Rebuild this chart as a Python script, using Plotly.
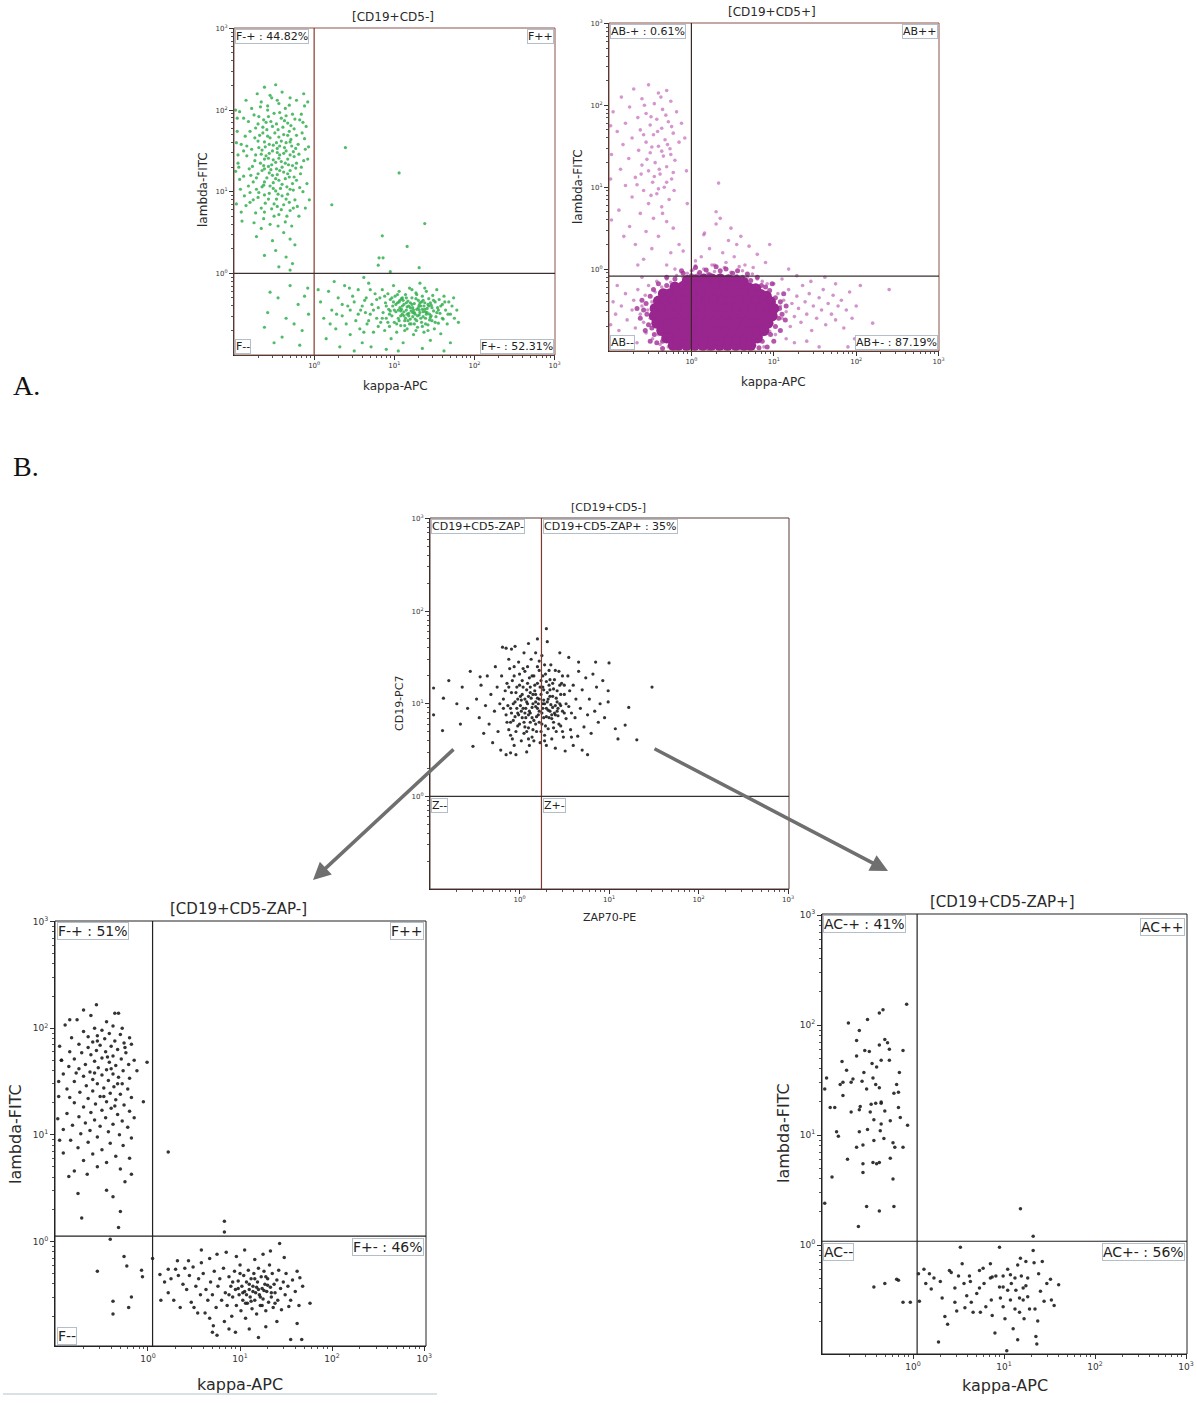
import math
import plotly.graph_objects as go

W, H = 1197, 1403

# ---------------- DATA (log10 decade values) ----------------
tick_vals = [0, 1, 2, 3]
tick_text = ["10<sup>0</sup>", "10<sup>1</sup>", "10<sup>2</sup>", "10<sup>3</sup>"]

# Panel A1 [CD19+CD5-]  (green)
a1_upper_left = [
 (-0.62,2.28),(-0.48,2.31),(-0.71,2.20),(-0.55,2.18),(-0.40,2.22),(-0.30,2.15),(-0.85,2.12),(-0.66,2.10),(-0.44,2.08),(-0.22,2.12),
 (-0.12,2.05),(-0.78,2.02),(-0.58,2.00),(-0.36,2.02),(-0.50,1.96),(-0.27,1.95),(-0.93,1.98),(-0.69,1.92),(-0.41,1.90),(-0.18,1.88),
 (-0.82,1.86),(-0.60,1.85),(-0.33,1.84),(-0.52,1.80),(-0.73,1.78),(-0.45,1.76),(-0.25,1.77),(-0.96,1.74),(-0.64,1.72),(-0.38,1.70),
 (-0.15,1.72),(-0.86,1.68),(-0.55,1.66),(-0.29,1.64),(-0.70,1.62),(-0.47,1.60),(-0.20,1.58),(-0.91,1.58),(-0.61,1.55),(-0.37,1.54),
 (-0.78,1.52),(-0.52,1.50),(-0.26,1.49),(-0.11,1.52),(-0.66,1.46),(-0.43,1.45),(-0.84,1.44),(-0.57,1.41),(-0.33,1.40),(-0.74,1.38),
 (-0.48,1.36),(-0.22,1.35),(-0.95,1.35),(-0.63,1.32),(-0.40,1.30),(-0.81,1.28),(-0.54,1.27),(-0.30,1.26),(-0.70,1.22),(-0.46,1.21),
 (-0.17,1.22),(-0.88,1.19),(-0.59,1.17),(-0.36,1.16),(-0.76,1.12),(-0.51,1.11),(-0.27,1.10),(-0.65,1.06),(-0.42,1.04),(-0.92,1.03),
 (-0.80,0.99),(-0.56,0.98),(-0.33,0.97),(-0.14,1.00),(-0.70,0.93),(-0.47,0.91),(-0.24,0.90),(-0.61,0.86),(-0.38,0.84),(-0.85,0.83),
 (-0.53,0.79),(-0.30,0.77),(-0.73,0.74),(-0.44,0.72),(-0.19,0.70),(-0.63,0.67),(-0.90,0.64),(-0.36,0.63),(-0.55,0.60),(-0.28,0.58),
 (-0.58,2.05),(-0.35,1.93),(-0.63,1.88),(-0.47,1.83),(-0.39,1.79),(-0.59,1.76),(-0.31,1.74),(-0.68,1.69),(-0.44,1.67),(-0.35,1.60),
 (-0.56,1.58),(-0.28,1.56),(-0.69,1.54),(-0.46,1.53),(-0.38,1.47),(-0.60,1.44),(-0.25,1.43),(-0.51,1.39),(-0.41,1.37),(-0.67,1.35),
 (-0.32,1.33),(-0.57,1.31),(-0.47,1.28),(-0.23,1.29),(-0.65,1.26),(-0.38,1.24),(-0.52,1.20),(-0.79,1.20),(-0.31,1.18),(-0.44,1.14),
 (-0.62,1.12),(-0.22,1.14),(-0.55,1.07),(-0.34,1.06),(-0.72,1.03),(-0.48,1.01),(-0.26,1.02),(-0.62,0.96),(-0.40,0.95),(-0.76,0.90),
 (-0.31,0.87),(-0.50,0.85),(-0.21,0.82),(-0.66,0.80),(-0.41,0.78),(-0.97,1.60),(-0.98,1.25),(-0.97,0.85),(-0.98,2.00),(-0.88,1.50),
 (-0.87,0.95),(-0.10,1.80),(-0.08,1.40),(-0.09,1.10),(-0.06,0.90),(-0.13,2.20),(-0.16,1.95),(-0.12,1.65),(-0.16,1.30),(-0.11,0.80),
 (-0.72,0.45),(-0.52,0.40),(-0.38,0.50),(-0.30,0.42),(-0.24,0.35),(-0.48,0.28),(-0.62,0.22),(-0.35,0.20),(-0.27,0.12),(-0.44,0.08),
 (-0.30,0.04),
 (-0.53,2.15),(-0.46,2.12),(-0.67,2.04),(-0.31,2.06),(-0.75,1.94),(-0.57,1.92),(-0.43,1.97),(-0.24,1.89),(-0.88,1.90),(-0.70,1.83),
 (-0.54,1.86),(-0.37,1.87),(-0.29,1.81),(-0.64,1.79),(-0.80,1.74),(-0.49,1.72),(-0.33,1.69),(-0.58,1.68),(-0.22,1.69),(-0.74,1.66),
 (-0.41,1.62),(-0.62,1.61),(-0.30,1.61),(-0.51,1.57),(-0.84,1.56),(-0.43,1.56),(-0.23,1.53),(-0.65,1.51),(-0.35,1.50),(-0.56,1.47),
 (-0.46,1.48),(-0.73,1.45),(-0.30,1.45),(-0.19,1.46),(-0.62,1.40),(-0.44,1.41),(-0.53,1.33),(-0.36,1.35),(-0.77,1.31),(-0.27,1.32),
 (-0.62,1.28),(-0.43,1.26),(-0.56,1.23),(-0.33,1.22),(-0.72,1.17),(-0.48,1.16),(-0.25,1.18),(-0.63,1.08),(-0.40,1.09),(-0.82,1.07),
 (-0.51,1.04),(-0.30,1.03),(-0.69,0.99),(-0.45,0.97),(-0.57,0.91),(-0.35,0.91),(-0.80,0.87),(-0.46,0.82),(-0.26,0.80),(-0.62,0.75),
 (-0.50,0.70),(-0.34,0.70),(-0.75,0.62),(-0.45,0.58),(-0.66,0.55),(-0.96,1.90),(-0.95,1.45),(-0.93,1.15),(-0.91,0.75),(-0.94,1.30),
 (-0.14,1.85),(-0.07,1.55),(-0.13,1.38),(-0.18,1.05),(-0.08,2.10),
]
a1_lower_left = [
 (-0.55,-0.23),(-0.45,-0.30),(-0.30,-0.15),(-0.20,-0.38),(-0.12,-0.28),(-0.07,-0.50),(-0.35,-0.55),(-0.58,-0.48),(-0.25,-0.62),
 (-0.15,-0.70),(-0.40,-0.78),(-0.62,-0.66),(-0.08,-0.18),(-0.50,-0.85),(-0.18,-0.88),
]
a1_lower_right = [
 (0.08,-0.35),(0.12,-0.55),(0.18,-0.22),(0.22,-0.45),(0.27,-0.68),(0.30,-0.30),(0.35,-0.52),(0.38,-0.15),(0.42,-0.40),(0.45,-0.75),
 (0.48,-0.28),(0.52,-0.58),(0.55,-0.20),(0.58,-0.45),(0.60,-0.85),(0.63,-0.33),(0.66,-0.62),(0.68,-0.12),(0.70,-0.50),(0.72,-0.38),
 (0.74,-0.72),(0.76,-0.25),(0.78,-0.55),(0.15,-0.80),(0.32,-0.90),(0.50,-0.95),(0.25,-0.10),(0.40,-0.62),(0.57,-0.68),(0.64,-0.48),
 (0.44,-0.18),(0.20,-0.62),(0.05,-0.20),(0.62,-0.05),(0.71,-0.90),
 (0.80,-0.42),(0.82,-0.30),(0.83,-0.60),(0.85,-0.20),(0.86,-0.48),(0.88,-0.70),(0.89,-0.36),(0.90,-0.55),(0.92,-0.25),(0.93,-0.44),
 (0.94,-0.65),(0.95,-0.32),(0.96,-0.80),(0.97,-0.52),(0.98,-0.40),(0.99,-0.15),(1.00,-0.60),(1.01,-0.28),(1.02,-0.47),(1.03,-0.72),
 (1.04,-0.36),(1.05,-0.55),(1.06,-0.22),(1.07,-0.42),(1.08,-0.64),(1.09,-0.31),(1.10,-0.50),(1.11,-0.85),(1.12,-0.38),(1.13,-0.58),
 (1.14,-0.26),(1.15,-0.45),(1.16,-0.68),(1.17,-0.34),(1.18,-0.52),(1.19,-0.18),(1.20,-0.42),(1.21,-0.62),(1.22,-0.30),(1.23,-0.48),
 (1.24,-0.75),(1.25,-0.37),(1.26,-0.56),(1.27,-0.24),(1.28,-0.44),(1.29,-0.66),(1.30,-0.33),(1.31,-0.51),(1.32,-0.12),(1.33,-0.40),
 (1.34,-0.60),(1.35,-0.28),(1.36,-0.47),(1.37,-0.72),(1.38,-0.36),(1.39,-0.55),(1.40,-0.22),(1.41,-0.43),(1.42,-0.63),(1.43,-0.31),
 (1.44,-0.50),(1.45,-0.82),(1.46,-0.39),(1.47,-0.58),(1.48,-0.27),(1.49,-0.46),(1.50,-0.68),(1.51,-0.35),(1.52,-0.53),(1.53,-0.20),
 (1.54,-0.42),(1.55,-0.61),(1.56,-0.32),(1.57,-0.49),(1.58,-0.74),(1.60,-0.38),(1.61,-0.56),(1.62,-0.28),(1.64,-0.45),(1.66,-0.62),
 (1.68,-0.35),(1.70,-0.50),(1.72,-0.40),(1.75,-0.55),(1.78,-0.45),
 (1.02,-0.38),(1.05,-0.45),(1.08,-0.52),(1.10,-0.40),(1.12,-0.47),(1.14,-0.55),(1.16,-0.41),(1.18,-0.49),(1.20,-0.56),(1.22,-0.38),
 (1.24,-0.45),(1.26,-0.50),(1.28,-0.58),(1.30,-0.42),(1.32,-0.48),(1.34,-0.35),(1.36,-0.53),(1.38,-0.44),(1.40,-0.50),(1.42,-0.38),
 (1.44,-0.57),(1.11,-0.33),(1.19,-0.62),(1.27,-0.31),(1.35,-0.65),(1.06,-0.58),(1.15,-0.36),(1.23,-0.53),(1.31,-0.39),(1.39,-0.47),
 (1.47,-0.42),(1.53,-0.48),(0.95,-0.46),(0.99,-0.35),(1.07,-0.33),(1.13,-0.64),(1.21,-0.46),(1.29,-0.52),(1.37,-0.40),(1.45,-0.54),
 (1.05,-0.95),(1.35,-0.92),(1.62,-0.95),(0.90,-0.93),(1.70,-0.85),
 (0.90,-0.40),(0.94,-0.50),(0.97,-0.30),(1.00,-0.45),(1.03,-0.62),(1.06,-0.35),(1.09,-0.44),(1.12,-0.52),(1.15,-0.30),(1.17,-0.58),
 (1.20,-0.36),(1.23,-0.42),(1.25,-0.62),(1.28,-0.26),(1.31,-0.45),(1.33,-0.55),(1.36,-0.33),(1.39,-0.62),(1.41,-0.48),(1.43,-0.40),
 (1.46,-0.52),(1.49,-0.33),(1.51,-0.60),(1.55,-0.45),(1.58,-0.40),(1.60,-0.55),(1.63,-0.35),(1.67,-0.50),(0.85,-0.55),(0.88,-0.28),
 (1.04,-0.26),(1.13,-0.70),(1.27,-0.70),(1.42,-0.70),(1.22,-0.20),(1.38,-0.18),(0.92,-0.60),(1.10,-0.30),(1.18,-0.40),(1.25,-0.48),
 (1.32,-0.36),(1.16,-0.50),(1.08,-0.46),(1.35,-0.44),(1.45,-0.36),(0.60,-0.40),(0.65,-0.30),(0.68,-0.58),(0.55,-0.50),(0.45,-0.45),
 (0.35,-0.38),(0.50,-0.35),(0.74,-0.45),(0.78,-0.32),(0.80,-0.65),(0.28,-0.50),(0.62,-0.72),(0.70,-0.20),(1.74,-0.30),(1.80,-0.60),
]
a1_scattered = [
 (0.39,1.54),(1.06,1.23),(0.22,0.84),(1.38,0.61),(0.85,0.46),(1.16,0.33),(0.81,0.19),(0.86,0.19),(0.80,0.10),(1.31,0.07),(0.95,0.02),
]

# Panel A2 [CD19+CD5+]  (magenta)
a2_upper_left = [
 (-0.70,2.20),(-0.52,2.25),(-0.40,2.15),(-0.30,2.18),(-0.85,2.10),(-0.60,2.08),(-0.25,2.05),(-0.45,2.02),(-0.75,1.98),(-0.35,1.95),
 (-0.95,1.92),(-0.55,1.90),(-0.18,1.92),(-0.65,1.85),(-0.42,1.83),(-0.28,1.80),(-0.80,1.78),(-0.50,1.76),(-0.12,1.78),(-0.36,1.72),
 (-0.62,1.70),(-0.90,1.68),(-0.22,1.66),(-0.46,1.64),(-0.72,1.60),(-0.32,1.58),(-0.55,1.55),(-0.15,1.55),(-0.83,1.52),(-0.40,1.50),
 (-0.26,1.47),(-0.64,1.45),(-0.50,1.42),(-0.97,1.40),(-0.34,1.38),(-0.76,1.35),(-0.20,1.33),(-0.44,1.30),(-0.60,1.27),(-0.30,1.25),
 (-0.86,1.22),(-0.52,1.20),(-0.38,1.16),(-0.68,1.12),(-0.24,1.10),(-0.47,1.06),(-0.80,1.02),(-0.33,1.00),(-0.58,0.96),(-0.42,0.92),
 (-0.72,0.88),(-0.27,0.85),(-0.52,0.80),(-0.36,0.76),(-0.88,0.72),(-0.62,0.68),(-0.46,0.62),(-0.30,0.58),(-0.75,0.52),(-0.55,0.46),
 (-0.40,0.40),(-0.68,0.30),(-0.48,0.25),(-0.25,0.20),(-0.58,0.12),(-0.98,1.75),(-0.98,1.10),(-0.97,0.60),(-0.06,1.20),(-0.05,0.80),
 (-0.08,1.60),(-0.37,2.10),(-0.57,2.00),(-0.31,1.88),(-0.49,1.86),(-0.24,1.74),(-0.41,1.68),(-0.58,1.64),(-0.29,1.52),(-0.48,1.49),
 (-0.36,1.44),(-0.25,1.40),(-0.54,1.34),(-0.39,1.22),(-0.22,1.18),(-0.61,1.16),(-0.45,1.13),(-0.30,1.06),(-0.66,1.03),(-0.40,0.98),
 (-0.21,0.96),(-0.49,0.90),(-0.35,0.68),(-0.22,0.50),(-0.82,0.40),(-0.15,0.30),(-0.65,0.05),
]
a2_above_line = [
 (0.15,0.42),(0.30,0.55),(0.45,0.35),(0.60,0.40),(0.70,0.28),(0.38,0.20),(0.22,0.25),(0.52,0.15),(0.80,0.18),(0.05,0.10),
 (-0.10,0.22),(0.65,0.05),(0.42,0.08),(0.90,0.08),(0.28,0.05),(-0.30,0.05),(0.55,0.30),(0.12,0.15),(0.95,0.30),(1.18,0.00),
 (0.48,0.50),(0.35,0.62),(0.33,1.05),(0.30,0.70),(0.16,0.44),(0.75,0.02),(-0.20,0.00),(0.02,-0.01),
]
a2_core = [
 (-0.05,-0.14),(0.05,-0.13),(0.15,-0.12),(0.25,-0.12),(0.35,-0.12),(0.45,-0.13),(0.55,-0.14),(0.63,-0.16),
 (-0.20,-0.22),(-0.10,-0.21),(0.00,-0.20),(0.10,-0.21),(0.20,-0.21),(0.30,-0.20),(0.40,-0.21),(0.50,-0.21),(0.60,-0.22),(0.70,-0.23),(0.78,-0.24),
 (-0.34,-0.30),(-0.26,-0.30),(-0.16,-0.30),(-0.06,-0.30),(0.04,-0.30),(0.14,-0.30),(0.24,-0.30),(0.34,-0.30),(0.44,-0.30),(0.54,-0.30),
 (0.64,-0.30),(0.74,-0.31),(0.84,-0.31),(0.91,-0.33),
 (-0.40,-0.39),(-0.32,-0.39),(-0.22,-0.39),(-0.12,-0.39),(-0.02,-0.39),(0.08,-0.39),(0.18,-0.39),(0.28,-0.39),(0.38,-0.39),(0.48,-0.39),
 (0.58,-0.39),(0.68,-0.39),(0.78,-0.39),(0.88,-0.39),(0.96,-0.40),
 (-0.44,-0.48),(-0.36,-0.48),(-0.26,-0.48),(-0.16,-0.48),(-0.06,-0.48),(0.04,-0.48),(0.14,-0.48),(0.24,-0.48),(0.34,-0.48),(0.44,-0.48),
 (0.54,-0.48),(0.64,-0.48),(0.74,-0.48),(0.84,-0.48),(0.94,-0.48),(1.00,-0.48),
 (-0.45,-0.57),(-0.37,-0.57),(-0.27,-0.57),(-0.17,-0.57),(-0.07,-0.57),(0.03,-0.57),(0.13,-0.57),(0.23,-0.57),(0.33,-0.57),(0.43,-0.57),
 (0.53,-0.57),(0.63,-0.57),(0.73,-0.57),(0.83,-0.57),(0.93,-0.57),(0.98,-0.57),
 (-0.42,-0.66),(-0.34,-0.66),(-0.24,-0.66),(-0.14,-0.66),(-0.04,-0.66),(0.06,-0.66),(0.16,-0.66),(0.26,-0.66),(0.36,-0.66),(0.46,-0.66),
 (0.56,-0.66),(0.66,-0.66),(0.76,-0.66),(0.86,-0.66),(0.93,-0.66),
 (-0.36,-0.75),(-0.28,-0.75),(-0.18,-0.75),(-0.08,-0.75),(0.02,-0.75),(0.12,-0.75),(0.22,-0.75),(0.32,-0.75),(0.42,-0.75),(0.52,-0.75),
 (0.62,-0.75),(0.72,-0.75),(0.82,-0.75),(0.88,-0.75),
 (-0.30,-0.84),(-0.24,-0.84),(-0.14,-0.84),(-0.04,-0.84),(0.06,-0.84),(0.16,-0.84),(0.26,-0.84),(0.36,-0.84),(0.46,-0.84),(0.56,-0.84),
 (0.66,-0.84),(0.74,-0.84),(0.80,-0.84),
 (-0.22,-0.93),(-0.16,-0.93),(-0.06,-0.93),(0.04,-0.93),(0.14,-0.93),(0.24,-0.93),(0.34,-0.93),(0.44,-0.93),(0.54,-0.93),(0.64,-0.93),(0.72,-0.93),
]
a2_ring = [
 (-0.55,-0.42),(-0.54,-0.55),(-0.52,-0.68),(-0.50,-0.33),(-0.46,-0.25),(-0.45,-0.80),(-0.40,-0.18),(-0.35,-0.88),(-0.30,-0.20),(-0.25,-0.93),
 (-0.20,-0.12),(-0.10,-0.05),(0.00,-0.08),(0.10,-0.04),(0.22,-0.07),(0.35,-0.02),(0.50,-0.05),(0.62,-0.10),(0.72,-0.14),(0.85,-0.20),
 (0.95,-0.26),(1.02,-0.35),(1.07,-0.48),(1.06,-0.60),(1.02,-0.70),(0.96,-0.80),(0.86,-0.88),(0.82,-0.96),(-0.35,-0.97),(0.90,-0.22),
 (1.08,-0.40),(1.10,-0.55),(-0.58,-0.50),(-0.48,-0.72),(-0.60,-0.38),(-0.62,-0.60),(-0.56,-0.75),(-0.42,-0.90),(-0.30,-0.10),(-0.12,-0.02),
 (0.05,0.02),(0.18,-0.01),(0.30,0.03),(0.42,0.00),(0.56,-0.02),(0.68,-0.06),(0.80,-0.10),(0.98,-0.18),(1.12,-0.30),(1.15,-0.45),
 (1.14,-0.62),(1.08,-0.75),(1.00,-0.88),(0.92,-0.95),(-0.50,-0.88),(-0.66,-0.48),
]
a2_halo = [
 (-0.85,-0.45),(-0.80,-0.30),(-0.78,-0.62),(-0.72,-0.50),(-0.70,-0.38),(-0.68,-0.72),(-0.65,-0.25),(-0.62,-0.55),(-0.60,-0.45),(-0.58,-0.65),
 (-0.56,-0.32),(-0.55,-0.78),(-0.53,-0.50),(-0.52,-0.20),(-0.50,-0.60),(-0.48,-0.40),(-0.47,-0.85),(-0.45,-0.70),(-0.44,-0.28),(-0.42,-0.15),
 (-0.40,-0.80),(-0.38,-0.92),(-0.36,-0.22),(-0.34,-0.86),(-0.30,-0.12),(-0.28,-0.95),(-0.25,-0.16),(-0.22,-0.90),(-0.18,-0.08),(-0.15,-0.97),
 (-0.92,-0.55),(-0.95,-0.40),(-0.88,-0.75),(-0.75,-0.85),(-0.66,-0.90),(-0.90,-0.20),(-0.60,-0.10),(-0.98,-0.68),
 (-0.10,-0.10),(-0.05,-0.05),(0.00,-0.02),(0.08,-0.06),(0.15,0.00),(0.20,-0.05),(0.28,-0.03),(0.35,-0.07),(0.40,0.02),(0.48,-0.04),
 (0.55,-0.08),(0.62,-0.02),(0.68,-0.10),(0.74,-0.06),(0.80,-0.12),(0.86,-0.15),(0.92,-0.18),(0.10,-0.12),(0.45,-0.12),(0.65,-0.15),
 (0.25,0.05),(0.58,0.03),(0.05,0.04),
 (0.00,-0.97),(0.10,-0.95),(0.20,-0.98),(0.30,-0.96),(0.40,-0.97),(0.50,-0.94),(0.60,-0.97),(0.70,-0.92),(0.78,-0.88),(0.85,-0.82),
 (0.88,-0.95),(0.95,-0.76),(-0.05,-0.92),(0.15,-0.90),(0.45,-0.91),(0.65,-0.88),
 (1.05,-0.30),(1.08,-0.45),(1.10,-0.60),(1.12,-0.38),(1.15,-0.52),(1.18,-0.25),(1.20,-0.70),(1.22,-0.42),(1.25,-0.58),(1.28,-0.33),
 (1.30,-0.48),(1.33,-0.65),(1.35,-0.20),(1.38,-0.40),(1.40,-0.55),(1.43,-0.30),(1.46,-0.75),(1.48,-0.45),(1.52,-0.60),(1.55,-0.35),
 (1.58,-0.50),(1.60,-0.25),(1.63,-0.68),(1.66,-0.42),(1.70,-0.55),(1.72,-0.32),(1.75,-0.62),(1.78,-0.45),(1.82,-0.38),(1.85,-0.72),
 (1.88,-0.50),(1.92,-0.28),(1.95,-0.60),(2.00,-0.45),(1.98,-0.85),(1.02,-0.80),(1.15,-0.85),(1.25,-0.90),(1.40,-0.88),(1.00,-0.18),
 (1.10,-0.12),(1.28,-0.08),(1.45,-0.15),(1.62,-0.10),(1.75,-0.18),(2.05,-0.20),(2.20,-0.66),(2.40,-0.25),(1.90,-0.95),(1.55,-0.95),
]

# Panel B top [CD19+CD5-]  ZAP70-PE vs CD19-PC7
b_top_points = [
 (-0.18,1.05),(-0.15,0.88),(-0.14,1.22),(-0.12,0.72),(-0.11,1.38),(-0.10,0.95),(-0.09,1.12),(-0.08,0.62),(-0.07,0.82),(-0.06,1.30),
 (-0.05,1.02),(-0.04,0.70),(-0.03,1.18),(-0.02,0.90),(-0.01,1.45),(0.00,0.78),(0.01,1.08),(0.02,0.60),(0.03,1.25),(0.04,0.95),
 (0.05,0.68),(0.06,1.35),(0.07,0.85),(0.08,1.15),(0.09,1.00),(0.10,0.74),(0.11,1.28),(0.12,0.90),(0.13,1.48),(0.14,0.64),
 (0.15,1.10),(0.16,0.82),(0.17,1.20),(0.18,0.97),(0.19,0.70),(0.20,1.40),(0.21,0.88),(0.22,1.05),(0.23,0.58),(0.24,1.25),
 (0.25,0.78),(0.26,0.95),(0.27,1.15),(0.28,0.66),(0.29,1.32),(0.30,0.86),(0.31,1.02),(0.32,0.73),(0.33,1.20),(0.34,0.92),
 (0.35,1.42),(0.36,0.62),(0.37,1.08),(0.38,0.80),(0.39,1.26),(0.40,0.98),(0.41,0.70),(0.42,1.14),(0.43,0.87),(0.44,1.35),
 (0.45,1.00),(0.46,0.76),(0.47,1.22),(0.48,0.92),(0.49,0.64),(0.50,1.10),(0.52,0.84),(0.54,1.30),(0.55,0.97),(0.57,0.72),
 (-0.16,1.14),(-0.13,0.98),(-0.10,0.80),(-0.08,1.25),(-0.05,0.86),(-0.02,1.05),(0.00,1.32),(0.02,0.92),(0.04,1.18),(0.06,0.75),
 (0.08,1.02),(0.10,0.88),(0.12,1.12),(0.14,0.96),(0.16,1.30),(0.18,0.78),(0.20,1.06),(0.22,0.92),(0.24,0.70),(0.26,1.18),
 (0.28,1.00),(0.30,1.24),(0.32,0.93),(0.34,1.08),(0.36,0.84),(0.38,1.16),(0.40,0.88),(0.42,1.02),(0.44,0.78),(0.46,1.10),
 (0.48,1.30),(0.50,0.90),(0.05,1.55),(0.18,1.55),(0.25,1.52),(0.11,0.55),(0.30,0.55),(-0.06,0.55),(0.40,0.52),(0.15,1.00),
 (0.20,1.22),(0.12,0.80),(0.03,0.85),(-0.03,0.95),(0.27,0.85),(0.33,1.36),(0.09,1.40),(-0.12,1.48),(0.22,1.36),(0.37,0.96),
 (-0.48,1.05),(-0.45,0.85),(-0.43,1.20),(-0.40,0.68),(-0.38,0.98),(-0.36,1.30),(-0.34,0.78),(-0.32,1.10),(-0.30,0.58),(-0.28,0.92),
 (-0.27,1.40),(-0.25,1.18),(-0.24,0.70),(-0.22,1.00),(-0.21,0.50),(-0.20,1.30),(0.60,1.20),(0.62,0.85),(0.63,1.05),(0.65,0.65),
 (0.66,1.35),(0.68,0.95),(0.70,1.15),(0.72,0.75),(0.74,1.28),(0.76,0.88),(0.78,1.05),(0.80,0.68),(0.82,1.32),(0.84,0.92),
 (0.86,1.18),(0.88,0.80),(0.90,1.00),(0.93,1.25),(0.95,0.85),(0.60,0.55),(0.70,0.50),(0.55,1.50),(0.66,1.45),(0.45,1.55),
 (-0.15,1.60),(-0.05,1.62),(0.10,1.65),(0.20,1.70),(0.08,0.48),(-0.15,0.45),
 (-0.96,1.17),(-0.79,1.25),(-0.64,1.18),(-0.85,1.06),(-0.96,0.88),(-0.86,0.71),(-0.66,0.78),(-0.52,0.54),(1.48,1.18),(1.31,0.61),
 (1.22,0.96),(1.07,0.73),(1.18,0.77),(1.00,1.44),(0.30,1.81),(0.31,1.67),(-0.19,1.61),(-0.09,1.59),(-0.44,1.29),(0.99,1.02),
 (0.99,1.14),(0.76,0.45),(-0.10,0.47),(-0.04,0.45),(0.51,0.49),(-0.58,0.95),(-0.70,1.00),(1.10,0.62),(-0.55,1.35),(0.85,1.45),
 (-0.07,1.00),(-0.04,1.12),(-0.01,0.88),(0.01,0.98),(0.03,1.10),(0.05,0.80),(0.07,0.95),(0.09,1.22),(0.11,0.92),(0.13,1.06),
 (0.15,0.72),(0.17,1.14),(0.19,0.86),(0.21,1.00),(0.23,1.18),(0.25,0.90),(0.27,1.04),(0.29,0.76),(0.31,1.12),(0.33,0.85),
 (0.35,0.99),(0.37,1.22),(0.39,0.90),(0.41,1.06),(0.43,0.95),(0.45,1.20),(0.00,1.20),(0.06,0.90),(0.10,1.08),(0.14,1.30),
 (0.18,1.10),(0.22,0.80),(0.26,1.30),(0.30,0.95),(0.34,1.15),(0.38,0.74),(0.42,0.92),(0.04,1.38),(0.16,0.60),(0.28,1.42),
 (-0.09,0.90),(-0.12,1.18),(0.08,0.70),(0.20,0.95),(0.32,1.05),(0.12,1.18),(0.24,1.10),(0.02,1.04),(0.36,0.88),(0.46,0.98),
 (-0.02,0.76),(0.10,0.62),(0.28,0.60),(0.50,1.20),(0.52,1.00),(0.56,1.14),(-0.14,0.80),(-0.18,0.95),(0.58,0.90),(0.06,1.05),
 (0.18,1.02),(0.26,1.00),(0.14,0.85),(0.34,1.26),(0.40,1.36),(0.22,1.46),(-0.06,1.40),(0.48,0.70),(0.58,0.64),(-0.10,0.66),
]

# Panel B left [CD19+CD5-ZAP-]
bl_upper_left = [
 (-0.56,2.22),(-0.70,2.17),(-0.32,2.14),(-0.36,2.14),(-0.85,2.08),(-0.77,2.08),(-0.62,2.12),(-0.45,2.06),(-0.38,2.02),(-0.90,2.03),
 (-0.58,2.00),(-0.28,2.00),(-0.70,1.97),(-0.50,1.98),(-0.42,1.95),(-0.30,1.94),(-0.65,1.92),(-0.55,1.93),(-0.83,1.91),(-0.20,1.91),
 (-0.47,1.90),(-0.36,1.88),(-0.60,1.87),(-0.26,1.86),(-0.75,1.85),(-0.52,1.84),(-0.40,1.83),(-0.96,1.83),(-0.18,1.85),(-0.65,1.82),
 (-0.33,1.80),(-0.56,1.79),(-0.46,1.78),(-0.72,1.77),(-0.24,1.77),(-0.62,1.75),(-0.38,1.74),(-0.94,1.70),(-0.50,1.72),(-0.80,1.71),
 (-0.29,1.71),(-0.01,1.68),(-0.15,1.70),(-0.58,1.69),(-0.42,1.68),(-0.68,1.66),(-0.21,1.66),(-0.35,1.65),(-0.86,1.64),(-0.54,1.63),
 (-0.75,1.62),(-0.45,1.61),(-0.27,1.60),(-0.63,1.59),(-0.12,1.60),(-0.38,1.57),(-0.92,1.57),(-0.50,1.56),(-0.70,1.55),(-0.32,1.54),
 (-0.20,1.53),(-0.60,1.52),(-0.43,1.51),(-0.80,1.50),(-0.55,1.48),(-0.28,1.48),(-0.67,1.46),(-0.37,1.45),(-0.48,1.44),(-0.88,1.43),
 (-0.22,1.43),(-0.60,1.41),(-0.74,1.40),(-0.41,1.39),(-0.30,1.38),(-0.52,1.36),(-0.97,1.36),(-0.18,1.35),(-0.65,1.34),(-0.35,1.33),
 (-0.45,1.31),(-0.05,1.31),(-0.80,1.30),(-0.57,1.29),(-0.26,1.28),(-0.70,1.26),(-0.40,1.25),(-0.50,1.23),(-0.20,1.22),(-0.62,1.21),
 (-0.88,1.20),(-0.33,1.19),(-0.75,1.17),(-0.46,1.16),(-0.15,1.16),(-0.58,1.14),(-0.28,1.13),(-0.68,1.11),(-0.38,1.10),(-0.82,1.09),
 (-0.52,1.08),(-0.22,1.07),(-0.92,1.05),(-0.63,1.04),(-0.43,1.03),(-0.73,1.01),(-0.31,1.00),(-0.55,0.98),(-0.18,0.97),(-0.84,0.95),
 (-0.65,0.93),(-0.41,0.92),(-0.27,0.90),(-0.76,0.88),(-0.50,0.86),(-0.92,0.83),(-0.60,0.82),(-0.35,0.80),(-0.20,0.78),(-0.70,0.76),
 (-0.45,0.74),(-0.55,0.70),(-0.30,0.68),(-0.80,0.66),(-0.66,0.63),(-0.86,0.61),(-0.18,0.63),(-0.25,0.56),(-0.45,0.48),(-0.76,0.45),
 (-0.38,0.42),(-0.30,0.28),(-0.72,0.22),(-0.32,0.13),(-0.94,1.70),(-0.97,1.50),(-0.98,1.15),(-0.96,0.95),(-0.85,1.78),(-0.78,1.58),
 (-0.85,1.35),(-0.40,1.62),(-0.33,1.48),(-0.58,1.58),(-0.48,1.36),(-0.36,1.27),(-0.55,1.88),(-0.44,1.73),(-0.25,1.82),
]
bl_lower_left = [
 (-0.55,-0.28),(-0.41,0.02),(-0.26,-0.14),(-0.23,-0.23),(-0.07,-0.27),(-0.06,-0.33),(-0.38,-0.56),(-0.38,-0.68),(-0.18,-0.52),(-0.21,-0.62),
]
bl_upper_right = [(0.22,0.84),(0.83,0.19),(0.83,0.09)]
bl_lower_right = [
 (0.13,-0.31),(0.14,-0.55),(0.22,-0.26),(0.22,-0.48),(0.30,-0.26),(0.38,-0.40),(0.40,-0.25),(0.49,-0.24),(0.52,-0.42),(0.54,-0.67),
 (0.62,-0.67),(0.67,-0.16),(0.67,-0.72),(0.71,-0.79),(0.83,-0.75),(0.96,-0.14),(1.16,-0.17),(1.33,-0.09),(1.43,-0.02),(1.28,-0.80),
 (1.55,-0.92),(1.67,-0.92),(1.62,-0.77),(1.76,-0.58),(1.65,-0.34),(1.53,-0.61),(0.05,-0.16),
 (0.60,-0.30),(0.63,-0.45),(0.65,-0.55),(0.68,-0.38),(0.70,-0.50),(0.72,-0.28),(0.74,-0.62),(0.76,-0.42),(0.78,-0.35),(0.80,-0.55),
 (0.82,-0.25),(0.84,-0.48),(0.86,-0.60),(0.88,-0.33),(0.90,-0.42),(0.91,-0.70),(0.92,-0.52),(0.94,-0.28),(0.95,-0.45),(0.96,-0.60),
 (0.98,-0.37),(0.99,-0.50),(1.00,-0.22),(1.01,-0.65),(1.02,-0.42),(1.03,-0.55),(1.04,-0.32),(1.05,-0.47),(1.06,-0.72),(1.07,-0.38),
 (1.08,-0.58),(1.09,-0.27),(1.10,-0.45),(1.11,-0.52),(1.12,-0.35),(1.13,-0.63),(1.14,-0.42),(1.15,-0.30),(1.16,-0.55),(1.17,-0.48),
 (1.18,-0.68),(1.19,-0.38),(1.20,-0.25),(1.21,-0.50),(1.22,-0.60),(1.23,-0.33),(1.24,-0.44),(1.25,-0.54),(1.26,-0.28),(1.27,-0.40),
 (1.28,-0.65),(1.29,-0.47),(1.30,-0.35),(1.31,-0.57),(1.32,-0.22),(1.33,-0.43),(1.34,-0.52),(1.35,-0.30),(1.36,-0.62),(1.37,-0.40),
 (1.38,-0.48),(1.40,-0.36),(1.41,-0.55),(1.42,-0.27),(1.44,-0.44),(1.45,-0.64),(1.47,-0.38),(1.49,-0.50),(1.50,-0.30),(1.52,-0.42),
 (1.55,-0.55),(1.57,-0.36),(1.60,-0.47),(1.62,-0.28),(1.64,-0.60),(1.68,-0.42),
 (0.98,-0.44),(1.03,-0.48),(1.07,-0.50),(1.10,-0.40),(1.14,-0.47),(1.18,-0.43),(1.22,-0.52),(1.26,-0.46),(1.30,-0.41),(1.34,-0.48),
 (1.06,-0.58),(1.16,-0.35),(1.24,-0.60),(1.00,-0.30),(1.38,-0.58),(0.88,-0.50),(0.92,-0.38),(1.12,-0.56),(1.28,-0.33),(1.20,-0.45),
 (0.18,-0.38),(0.25,-0.35),(0.28,-0.55),(0.33,-0.32),(0.35,-0.62),(0.42,-0.45),(0.45,-0.32),(0.47,-0.57),(0.55,-0.35),(0.57,-0.50),
 (0.58,-0.20),(0.44,-0.18),(0.32,-0.18),(0.50,-0.62),
 (0.75,-0.88),(0.95,-0.85),(1.10,-0.82),(1.40,-0.75),(1.20,-0.90),(0.88,-0.82),(0.70,-0.85),
 (0.85,-0.10),(1.05,-0.08),(1.25,-0.12),(0.75,-0.12),(1.48,-0.15),(0.58,-0.08),
]

# Panel B right [CD19+CD5-ZAP+]
br_upper_left = [
 (-0.07,2.19),(-0.33,2.14),(-0.37,2.11),(-0.50,2.05),(-0.71,2.02),(-0.59,1.95),(-0.31,1.87),(-0.28,1.84),(-0.26,1.78),(-0.37,1.82),
 (-0.62,1.86),(-0.53,1.77),(-0.11,1.77),(-0.62,1.72),(-0.35,1.68),(-0.40,1.62),(-0.26,1.68),(-0.78,1.67),(-0.73,1.59),(-0.95,1.52),
 (-0.80,1.46),(-0.77,1.48),(-0.66,1.51),(-0.56,1.49),(-0.44,1.52),(-0.51,1.42),(-0.41,1.46),(-0.18,1.46),(-0.16,1.39),(-0.21,1.38),
 (-0.91,1.25),(-0.86,1.25),(-0.68,1.21),(-0.59,1.23),(-0.46,1.28),(-0.47,1.21),(-0.35,1.30),(-0.41,1.29),(-0.31,1.22),(-0.16,1.25),
 (-0.06,1.09),(-0.35,1.10),(-0.50,1.05),(-0.59,1.03),(-0.84,1.03),(-0.82,0.99),(-0.36,1.04),(-0.43,0.95),(-0.32,0.97),(-0.22,0.93),
 (-0.20,0.89),(-0.11,0.89),(-0.72,0.78),(-0.62,0.89),(-0.55,0.91),(-0.55,0.74),(-0.44,0.75),(-0.40,0.74),(-0.37,0.75),(-0.25,0.79),
 (-0.22,0.60),(-0.55,0.66),(-0.89,0.62),(-0.97,0.38),(-0.51,0.35),(-0.37,0.31),(-0.21,0.35),(-0.60,0.17),(-0.97,1.42),(-0.77,1.36),
 (-0.68,1.48),(-0.58,1.26),(-0.54,1.57),(-0.45,1.65),(-0.48,1.76),(-0.15,1.57),(-0.37,1.43),(-0.35,1.29),(-0.14,1.16),(-0.25,1.13),
 (-0.43,1.14),
]
br_lower_left = [(-0.43,-0.38),(-0.31,-0.35),(-0.18,-0.31),(-0.16,-0.32),(-0.11,-0.52),(-0.03,-0.52)]
br_upper_right = [(1.18,0.33),(1.32,0.08)]
br_lower_right = [
 (0.52,-0.02),(0.95,-0.02),(0.06,-0.26),(0.18,-0.26),(0.23,-0.30),(0.30,-0.33),(0.07,-0.51),(0.14,-0.35),(0.32,-0.48),(0.35,-0.65),
 (0.28,-0.88),(0.40,-0.23),(0.42,-0.25),(0.46,-0.39),(0.46,-0.52),(0.50,-0.28),(0.54,-0.17),(0.56,-0.35),(0.59,-0.46),(0.62,-0.28),
 (0.64,-0.52),(0.66,-0.61),(0.73,-0.23),(0.73,-0.39),(0.74,-0.61),(0.78,-0.35),(0.85,-0.17),(0.85,-0.30),(0.86,-0.50),(0.87,-0.64),
 (0.91,-0.28),(0.96,-0.48),(0.99,-0.38),(1.01,-0.67),(1.03,-0.96),(1.04,-0.22),(1.07,-0.27),(1.07,-0.50),(1.10,-0.76),(1.12,-0.58),
 (1.13,-0.41),(1.15,-0.18),(1.17,-0.48),(1.17,-0.61),(1.18,-0.12),(1.19,-0.28),(1.21,-0.39),(1.22,-0.67),(1.24,-0.15),(1.26,-0.30),
 (1.26,-0.47),(1.28,-0.58),(1.32,-0.05),(1.33,-0.16),(1.34,-0.58),(1.35,-0.83),(1.36,-0.90),(1.37,-0.69),(1.38,-0.26),(1.40,-0.42),
 (1.42,-0.15),(1.44,-0.51),(1.47,-0.35),(1.51,-0.31),(1.52,-0.50),(1.55,-0.55),(1.60,-0.36),
 (0.99,-0.28),(0.87,-0.29),(1.04,-0.41),(1.08,-0.35),(0.95,-0.38),(1.12,-0.30),(0.80,-0.56),(0.70,-0.44),(0.57,-0.57),(1.21,-0.50),
 (0.77,-0.21),(0.99,-0.56),(1.24,-0.37),(0.63,-0.33),(0.20,-0.40),(0.38,-0.72),(0.90,-0.80),(1.15,-0.86),(0.48,-0.60),(0.12,-0.22),
]

# quadrant gate labels
a1_gate_labels = ["F-+ : 44.82%", "F++", "F--", "F+- : 52.31%"]
a2_gate_labels = ["AB-+ : 0.61%", "AB++", "AB--", "AB+- : 87.19%"]
bt_gate_labels = ["CD19+CD5-ZAP-", "CD19+CD5-ZAP+ : 35%", "Z--", "Z+-"]
bl_gate_labels = ["F-+ : 51%", "F++", "F--", "F+- : 46%"]
br_gate_labels = ["AC-+ : 41%", "AC++", "AC--", "AC+- : 56%"]

# ---------------- FIGURE ----------------
FONT = "DejaVu Sans"
fig = go.Figure()


def px_x(p):
    return p / W


def px_y(p):
    return 1 - p / H


def add_pts(pts, sfx, size, color, opacity=1.0):
    fig.add_trace(go.Scatter(
        x=[p[0] for p in pts], y=[p[1] for p in pts], mode="markers",
        xaxis="x" + sfx, yaxis="y" + sfx,
        marker=dict(size=size, color=color, opacity=opacity, line=dict(width=0)),
        hoverinfo="skip", showlegend=False))


GREEN = "rgb(50,175,80)"
add_pts(a1_upper_left + a1_lower_left + a1_lower_right + a1_scattered, "", 3.2, GREEN, 0.85)

add_pts(a2_upper_left + a2_above_line, "2", 3.6, "rgb(185,80,175)", 0.6)
add_pts(a2_halo, "2", 3.6, "rgb(170,60,160)", 0.55)
add_pts(a2_ring, "2", 5, "rgb(160,45,150)", 0.8)
add_pts(a2_core, "2", 11, "rgb(152,38,142)", 1.0)

BLACK = "#1e1e1e"
add_pts(b_top_points, "3", 3.2, BLACK, 0.9)
add_pts(bl_upper_left + bl_lower_left + bl_upper_right + bl_lower_right, "4", 3.5, BLACK, 0.9)
add_pts(br_upper_left + br_lower_left + br_upper_right + br_lower_right, "5", 3.5, BLACK, 0.9)

minor_vals = [d + math.log10(k) for d in range(-1, 3) for k in range(2, 10)]

panels = [
    dict(sfx="", dx=(234, 555), dy=(28, 355), xr=[-1, 3.005], yr=[-1, 3.005], vx=0.0, hy=0.0,
         frame="#8a5248", vcol="#8c3a2c", hcol="#3a3030", tfs=7),
    dict(sfx="2", dx=(609, 939), dy=(23, 351), xr=[-1, 3.005], yr=[-1, 3.005], vx=0.0, hy=-0.085,
         frame="#8a5248", vcol="#3a2a2a", hcol="#3a3030", tfs=7),
    dict(sfx="3", dx=(430, 789), dy=(518, 889), xr=[-1, 3.01], yr=[-1, 3.005], vx=0.245, hy=0.0,
         frame="#5a3a36", vcol="#7e3a30", hcol="#333333", tfs=7),
    dict(sfx="4", dx=(55, 426), dy=(921, 1346), xr=[-1.01, 3.02], yr=[-0.98, 3.005], vx=0.05, hy=0.05,
         frame="#222222", vcol="#222222", hcol="#222222", tfs=9),
    dict(sfx="5", dx=(822, 1187), dy=(914, 1354), xr=[-1.0, 3.01], yr=[-0.99, 3.01], vx=0.045, hy=0.035,
         frame="#222222", vcol="#222222", hcol="#222222", tfs=9),
]

layout_axes = {}
shapes = []
for p in panels:
    s = p["sfx"]
    common = dict(showgrid=False, zeroline=False, showline=True, linecolor="#222", linewidth=1,
                  tickmode="array", tickvals=tick_vals, ticktext=tick_text,
                  ticks="outside", ticklen=4, tickcolor="#333", tickwidth=1,
                  tickfont=dict(family=FONT, size=p["tfs"], color="#333"),
                  minor=dict(tickmode="array", tickvals=minor_vals, ticks="outside",
                             ticklen=2, tickcolor="#555", tickwidth=1),
                  automargin=False, fixedrange=True)
    xa = dict(common, domain=[px_x(p["dx"][0]), px_x(p["dx"][1])], range=p["xr"],
              anchor="y" + s)
    ya = dict(common, domain=[px_y(p["dy"][1]), px_y(p["dy"][0])], range=p["yr"],
              anchor="x" + s)
    layout_axes["xaxis" + s] = xa
    layout_axes["yaxis" + s] = ya
    shapes.append(dict(type="rect", xref="x" + s + " domain", yref="y" + s + " domain",
                       x0=0, x1=1, y0=0, y1=1, line=dict(color=p["frame"], width=1), layer="above"))
    shapes.append(dict(type="line", xref="x" + s, yref="y" + s + " domain", x0=p["vx"], x1=p["vx"],
                       y0=0, y1=1, line=dict(color=p["vcol"], width=1.2), layer="above"))
    shapes.append(dict(type="line", xref="x" + s + " domain", yref="y" + s, x0=0, x1=1,
                       y0=p["hy"], y1=p["hy"], line=dict(color=p["hcol"], width=1.2), layer="above"))

shapes.append(dict(type="line", xref="paper", yref="paper", x0=px_x(3), x1=px_x(437),
                   y0=px_y(1394), y1=px_y(1394), line=dict(color="#b4c4cc", width=1.2)))

annotations = []


def text(t, x, y, size, xa="center", ya="middle", angle=0, family=FONT, color="#2a2a2a"):
    annotations.append(dict(text=t, x=px_x(x), y=px_y(y), xref="paper", yref="paper",
                            xanchor=xa, yanchor=ya, textangle=angle, showarrow=False,
                            font=dict(family=family, size=size, color=color)))


def gate(t, x, y, size, xa, ya):
    annotations.append(dict(text=t, x=px_x(x), y=px_y(y), xref="paper", yref="paper",
                            xanchor=xa, yanchor=ya, showarrow=False,
                            font=dict(family=FONT, size=size, color="#222"),
                            bgcolor="white", bordercolor="#b3bec8", borderwidth=1, borderpad=0))


text("[CD19+CD5-]", 393, 17, 12)
text("kappa-APC", 395, 386, 12)
text("lambda-FITC", 203, 190, 12, angle=-90)
text("[CD19+CD5+]", 772, 12, 12)
text("kappa-APC", 773, 382, 12)
text("lambda-FITC", 578, 187, 12, angle=-90)
text("[CD19+CD5-]", 608, 508, 11)
text("ZAP70-PE", 609, 917, 11)
text("CD19-PC7", 399, 704, 11, angle=-90)
text("[CD19+CD5-ZAP-]", 238, 909, 15)
text("kappa-APC", 240, 1384, 16)
text("lambda-FITC", 15, 1134, 16, angle=-90)
text("[CD19+CD5-ZAP+]", 1002, 902, 15)
text("kappa-APC", 1005, 1385, 16)
text("lambda-FITC", 783, 1133, 16, angle=-90)
text("A.", 11, 385, 28, xa="left", family="Liberation Serif", color="#111")
text("B.", 11, 466, 28, xa="left", family="Liberation Serif", color="#111")

g = a1_gate_labels
gate(g[0], 235, 29, 11, "left", "top"); gate(g[1], 554, 29, 11, "right", "top")
gate(g[2], 235, 354, 11, "left", "bottom"); gate(g[3], 554, 354, 11, "right", "bottom")
g = a2_gate_labels
gate(g[0], 610, 24, 11, "left", "top"); gate(g[1], 938, 24, 11, "right", "top")
gate(g[2], 610, 350, 11, "left", "bottom"); gate(g[3], 938, 350, 11, "right", "bottom")
g = bt_gate_labels
gate(g[0], 431, 519, 11, "left", "top"); gate(g[1], 543, 519, 11, "left", "top")
gate(g[2], 431, 798, 11, "left", "top"); gate(g[3], 543, 798, 11, "left", "top")
g = bl_gate_labels
gate(g[0], 57, 922, 14, "left", "top"); gate(g[1], 424, 922, 14, "right", "top")
gate(g[2], 57, 1345, 14, "left", "bottom"); gate(g[3], 424, 1238, 14, "right", "top")
g = br_gate_labels
gate(g[0], 823, 915, 14, "left", "top"); gate(g[1], 1185, 918, 14, "right", "top")
gate(g[2], 823, 1243, 14, "left", "top"); gate(g[3], 1185, 1243, 14, "right", "top")

for (hx, hy, tx, ty) in [(313, 880, 455, 748), (888, 871, 653, 748)]:
    annotations.append(dict(x=px_x(hx), y=px_y(hy), xref="paper", yref="paper",
                            ax=tx - hx, ay=ty - hy, axref="pixel", ayref="pixel",
                            showarrow=True, arrowhead=2, arrowsize=1.0, arrowwidth=3.5,
                            arrowcolor="#6f6f6f", text=""))

fig.update_layout(
    width=W, height=H, autosize=False, template="none",
    margin=dict(l=0, r=0, t=0, b=0, pad=0),
    paper_bgcolor="white", plot_bgcolor="white",
    showlegend=False, shapes=shapes, annotations=annotations,
    **layout_axes)

fig.write_html("out.html",
               config={"displayModeBar": False, "staticPlot": True},
               post_script="document.body.style.margin='0px';document.body.style.padding='0px';")
